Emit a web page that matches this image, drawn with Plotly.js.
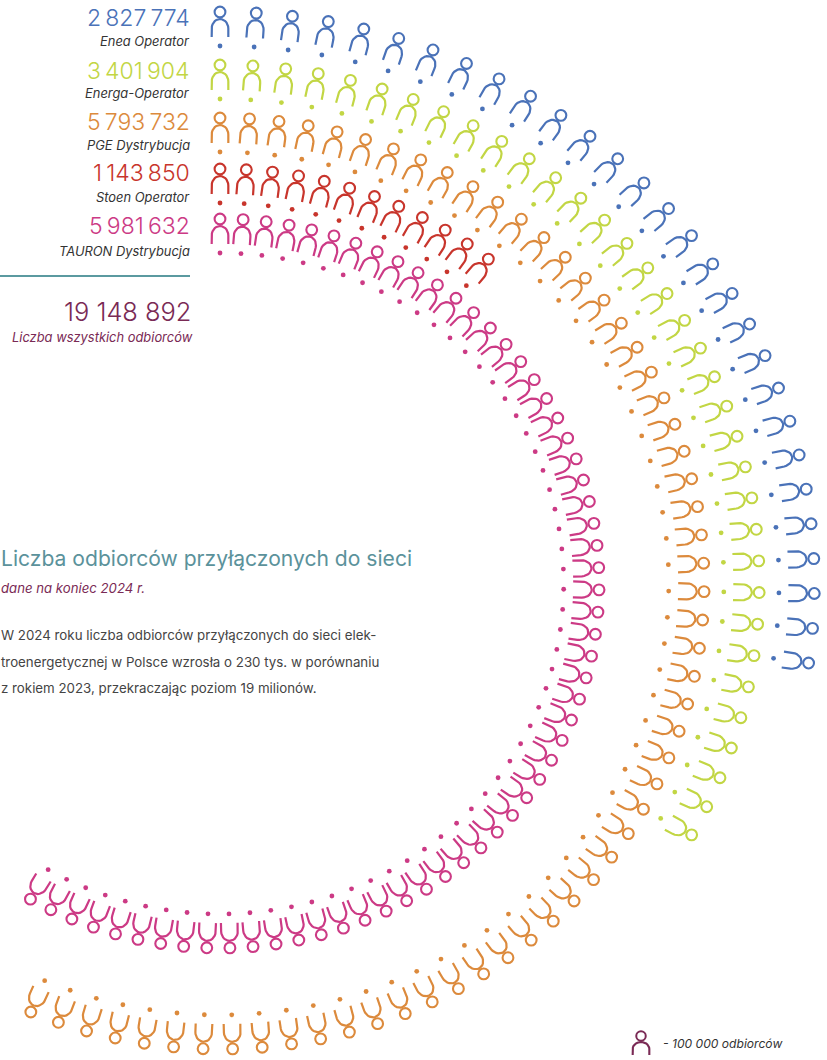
<!DOCTYPE html>
<html><head><meta charset="utf-8">
<script src="https://cdn.plot.ly/plotly-3.0.1.min.js"></script>
<style>html,body{margin:0;padding:0;background:#fff}#c{width:827px;height:1060px}</style></head>
<body><div id="c"></div>
<script>
var operators = ["Enea Operator","Energa-Operator","PGE Dystrybucja","Stoen Operator","TAURON Dystrybucja"];
var valueLabels = ["2\u2009827\u2009774","3\u2009401\u2009904","5\u2009793\u2009732","1\u2009143\u2009850","5\u2009981\u2009632"];
var iconCounts = [29,35,59,12,61];
var colors = ["#4a72b8","#c2d644","#dc8a3c","#c8352c","#cc3a85"];
var ringRadii = [537.5,484.5,431.5,380.5,330.5];
var totalLabel = "19 148 892";

var W=827,H=1060,CX=220,CY=583.5,SX=1.04,STEP=3.5;
function archPts(r,th,sv){
  var pts=[],u,v,a,k,local=[[-8,9],[-8,17.5]];
  for(k=1;k<=14;k++){a=Math.PI*k/14;local.push([-8*Math.cos(a),17.5+9.5*Math.sin(a)]);}
  local.push([8,9]);
  local.forEach(function(p){
    u=p[0];v=9+(p[1]-9)*sv;
    pts.push([(r+v)*Math.sin(th)+u*Math.cos(th),(r+v)*Math.cos(th)-u*Math.sin(th)]);
  });
  return pts;
}
var traces=[];
iconCounts.forEach(function(n,i){
  var ax=[],ay=[],hx=[],hy=[],dx=[],dy=[],r=ringRadii[i];
  for(var k=0;k<n;k++){
    var th=k*STEP*Math.PI/180;
    archPts(r,th,1).forEach(function(p){ax.push(p[0]);ay.push(p[1]);});
    ax.push(null);ay.push(null);
    hx.push((r+34)*Math.sin(th));hy.push((r+34)*Math.cos(th));
    dx.push(r*Math.sin(th));dy.push(r*Math.cos(th));
  }
  traces.push({x:ax,y:ay,mode:"lines",line:{color:colors[i],width:2.2},hoverinfo:"skip",name:operators[i]});
  traces.push({x:hx,y:hy,mode:"markers",marker:{symbol:"circle-open",size:10.8,color:colors[i],line:{color:colors[i],width:2.1}},hoverinfo:"skip"});
  traces.push({x:dx,y:dy,mode:"markers",marker:{symbol:"circle",size:4.8,color:colors[i]},hoverinfo:"skip"});
});
(function(){
  var col="#7a2a55",lx=(641-CX)/SX,ly=CY-1064;
  var a=archPts(0,0,0.72);
  traces.push({x:a.map(function(p){return p[0]+lx;}),y:a.map(function(p){return p[1]+ly;}),mode:"lines",line:{color:col,width:2.1},hoverinfo:"skip"});
  traces.push({x:[lx],y:[ly+28],mode:"markers",marker:{symbol:"circle-open",size:9.5,color:col,line:{color:col,width:2}},hoverinfo:"skip"});
})();

function txt(s,x,y,size,color,anchor,italic,weight){
  return {text:s,xref:"paper",yref:"paper",x:(anchor==="right"?x+2.5:x-2.5)/W,y:1-y/H,xanchor:anchor,yanchor:"middle",showarrow:false,
    font:{family:"Inter, Roboto, sans-serif",size:size,color:color,style:italic?"italic":"normal",weight:weight||400},align:anchor};
}
var ann=[];
var numY=[18,71,122,173,226],nameY=[42,94,146,198,251];
operators.forEach(function(o,i){
  ann.push(txt(valueLabels[i],189,numY[i],23,colors[i],"right",false,300));
  ann.push(txt(o,189,nameY[i],12.9,"#333333","right",true));
});
ann.push(txt(totalLabel,190,311,25.4,"#7a2a55","right",false,300));
ann.push(txt("Liczba wszystkich odbiorców",192,337,12.9,"#7a2a55","right",true));
ann.push(txt("Liczba odbiorców przyłączonych do sieci",1,558,21.1,"#5b929b","left",false,400));
ann.push(txt("dane na koniec 2024 r.",1,588,13.2,"#7a2a55","left",true));
ann.push(txt("W 2024 roku liczba odbiorców przyłączonych do sieci elek-",1,635,13.3,"#444444","left"));
ann.push(txt("troenergetycznej w Polsce wzrosła o 230 tys. w porównaniu",1,662,13.3,"#444444","left"));
ann.push(txt("z rokiem 2023, przekraczając poziom 19 milionów.",1,688,13.3,"#444444","left"));
ann.push(txt("- 100 000 odbiorców",663,1043,12.1,"#333333","left",true));

Plotly.newPlot("c",traces,{
  width:W,height:H,margin:{l:0,r:0,t:0,b:0},showlegend:false,paper_bgcolor:"#fff",plot_bgcolor:"#fff",
  xaxis:{range:[-CX/SX,(W-CX)/SX],visible:false,fixedrange:true},
  yaxis:{range:[CY-H,CY],visible:false,fixedrange:true},
  annotations:ann,
  shapes:[{type:"line",xref:"paper",yref:"paper",x0:0,x1:190/W,y0:1-276/H,y1:1-276/H,line:{color:"#5b9aa0",width:2}}]
},{displayModeBar:false,staticPlot:true});
</script></body></html>
